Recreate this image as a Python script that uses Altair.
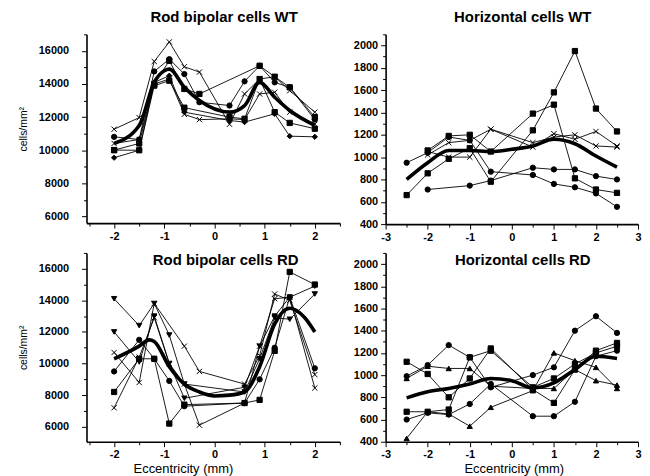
import altair as alt
import pandas as pd

# ---------------- data ----------------
# Rod bipolar cells WT
rbwt_x = [-2, -1.5, -1.2, -0.9, -0.6, -0.3, 0.3, 0.6, 0.9, 1.2, 1.5, 2]
rbwt_s1 = [11270, 11970, 15360, 16540, 15040, 14720, 11570, 13400, 14300, 14440, 13600, 12300]
rbwt_s2 = [10810, 10650, 14760, 15500, 14600, 12900, 12700, 14160, 15100, 14100, 13800, 11850]
rbwt_s3 = [10010, 10410, 14000, 15400, 13700, 13400, None, None, 15100, 14440, 13800, 12000]
rbwt_s4 = [10410, 10650, 14000, 14300, 12170, 11850, 11900, 11850, 13400, 13500, 12300, 11570]
rbwt_s5 = [10010, 10000, 13900, 14200, 12570, None, 12000, 11900, 14300, 12300, 11650, 11300]
rbwt_s6 = [9550, 10000, 14100, 14500, 12300, None, 11800, 11700, None, 12200, 10850, 10810]
rbwt_mean_x = [-2, -1.5, -1.2, -1.0, -0.9, -0.6, -0.3, 0.3, 0.6, 0.9, 1.2, 1.5, 2]
rbwt_mean = [10410, 11500, 14100, 14800, 14900, 13800, 13000, 12300, 12700, 14100, 13200, 12400, 11500]

# Horizontal cells WT
hwt_x = [-2.5, -2, -1.5, -1, -0.5, 0.5, 1, 1.5, 2, 2.5]
hwt_s1 = [660, 855, 985, 1080, 780, 1240, 1580, 1950, 1435, 1230]
hwt_s2 = [None, 1060, 1190, 1200, 1050, 1390, 1470, 810, 710, 680]
hwt_s3 = [None, 1020, 1130, 1150, 1250, 1090, 1210, 1160, 1230, 1100]
hwt_s4 = [None, 1050, 1000, 1000, 1250, 1130, 1180, 1200, 1100, 1090]
hwt_s5 = [950, 1040, 1180, 1150, 870, 840, 760, 730, 675, 555]
hwt_s6 = [None, 710, None, 745, 790, 905, 890, 890, 830, 800]
hwt_mean_x = [-2.5, -2, -1.5, -1, -0.5, 0, 0.5, 1, 1.5, 2, 2.5]
hwt_mean = [800, 950, 1060, 1060, 1050, 1070, 1100, 1160, 1120, 1010, 910]

# Rod bipolar cells RD
rbrd_x = [-2, -1.5, -1.2, -0.9, -0.6, -0.3, 0.6, 0.9, 1.2, 1.5, 2]
rbrd_s1 = [14100, 12400, 13800, 11800, 8700, None, 8200, 10300, 12900, 12800, 14400]
rbrd_s2 = [12000, 10100, 13000, 10000, 7800, None, 8500, 11100, 13000, 14200, 14900]
rbrd_s3 = [10700, 8800, 13800, None, 11100, 9500, 8700, 10500, 14400, 14000, 9300]
rbrd_s4 = [9500, 11500, 10300, 8900, 7300, None, 7500, 9000, 11000, 14200, 9700]
rbrd_s5 = [8200, 10300, 10300, 6200, 7400, None, 7500, 7700, 10800, 15800, 15000]
rbrd_s6 = [7200, 10400, 12900, 10000, 8700, 6100, 7500, 11100, 14100, 14200, 8450]
rbrd_mean_x = [-2, -1.5, -1.3, -1.2, -0.9, -0.6, -0.3, 0, 0.3, 0.6, 0.9, 1.2, 1.5, 1.8, 2]
rbrd_mean = [10300, 11100, 11500, 11400, 9800, 8700, 8200, 7950, 8000, 8200, 9800, 12500, 13500, 12900, 12000]

# Horizontal cells RD
hrd_x = [-2.5, -2, -1.5, -1, -0.5, 0.5, 1, 1.5, 2, 2.5]
hrd_s1 = [990, 1090, 1270, 1160, 890, 1000, 1070, 1400, 1530, 1380]
hrd_s2 = [970, 1080, 1060, 1060, 900, 880, 880, 1050, 950, 910]
hrd_s3 = [1120, 1010, 800, 970, 1240, 870, 750, 1050, 1220, 1290]
hrd_s4 = [670, 670, 690, 1160, 1220, 890, 970, 1100, 1200, 1260]
hrd_s5 = [600, 660, 645, 740, 920, 630, 630, 760, 1170, 1220]
hrd_s6 = [430, 670, 650, 540, 710, 860, 1200, 1130, 1070, 880]
hrd_mean_x = [-2.5, -2, -1.5, -1, -0.5, 0, 0.5, 1, 1.5, 2, 2.5]
hrd_mean = [795, 850, 880, 920, 970, 950, 885, 930, 1050, 1170, 1150]

marker_names = ["circle", "square", "x", "tri-up", "tri-down", "diamond"]
marker_shapes = ["circle", "square", "M-1,-1L1,1M1,-1L-1,1", "triangle-up", "triangle-down", "diamond"]

rbwt_markers = ["x", "circle", "square", "x", "square", "diamond"]
hwt_markers = ["square", "square", "x", "x", "circle", "circle"]
rbrd_markers = ["tri-down", "tri-down", "x", "circle", "square", "x"]
hrd_markers = ["circle", "tri-up", "square", "square", "circle", "tri-up"]


def build(xs, series, markers):
    rows = []
    for i, (vals, mk) in enumerate(zip(series, markers)):
        for x, v in zip(xs, vals):
            if v is not None:
                rows.append({"x": x, "y": v, "series": f"s{i}", "marker": mk})
    return pd.DataFrame(rows)


FONT = "Liberation Sans"


def panel(df, mx, my, xdom, ydom, xvals, yvals, ymajor, w, h,
          title=None, ytitle="", xtitle="", inner=None, lab_pad=3, title_x=None):
    ax_kw = dict(values=xvals,
                 tickSize={"condition": {"test": "datum.value % 1 === 0", "value": 5}, "value": 3},
                 labelExpr="datum.value % 1 === 0 ? '' + datum.value : ''",
                 labelFlush=False, labelOverlap=False, title=xtitle,
                 titleFontSize=13, titleFontWeight="normal", titlePadding=3)
    if title_x is not None:
        ax_kw["titleX"] = title_x
    X = alt.X("x:Q", scale=alt.Scale(domain=xdom, nice=False, zero=False), axis=alt.Axis(**ax_kw))
    Y = alt.Y("y:Q", scale=alt.Scale(domain=ydom, nice=False, zero=False),
              axis=alt.Axis(values=yvals,
                            tickSize={"condition": {"test": f"datum.value % {ymajor} === 0", "value": 5}, "value": 3},
                            labelExpr=f"datum.value % {ymajor} === 0 ? '' + datum.value : ''",
                            labelFlush=False, labelOverlap=False, labelPadding=lab_pad,
                            title=ytitle, titleFontSize=10.5, titleFontWeight="normal", titlePadding=10))
    base = alt.Chart(df)
    lines = base.mark_line(color="black", strokeWidth=0.9).encode(x=X, y=Y, detail="series:N")
    pts = base.mark_point(fill="black", stroke="black", strokeWidth=1, opacity=1, size=28).encode(
        x=X, y=Y,
        shape=alt.Shape("marker:N", scale=alt.Scale(domain=marker_names, range=marker_shapes), legend=None))
    mdf = pd.DataFrame({"x": mx, "y": my})
    mean = alt.Chart(mdf).mark_line(color="black", strokeWidth=3.6, interpolate="monotone").encode(x=X, y=Y)
    layers = [lines, pts, mean]
    if inner is not None:
        txt, tx, ty = inner
        one = pd.DataFrame({"k": [0]})
        layers.append(alt.Chart(one).mark_text(font=FONT, fontSize=15, fontWeight="bold", color="black",
                                               align="center", baseline="alphabetic").encode(
            x=alt.value(tx), y=alt.value(ty), text=alt.value(txt)))
    ch = alt.layer(*layers).properties(width=w, height=h)
    if title is not None:
        ch = ch.properties(title=alt.TitleParams(title, font=FONT, fontSize=15, fontWeight="bold",
                                                 color="black", dx=11, offset=3))
    return ch


rx = [-3, -2.5, -2, -1.5, -1, -0.5, 0, 0.5, 1, 1.5, 2, 2.5, 3]
lx = [-2.5, -2, -1.5, -1, -0.5, 0, 0.5, 1, 1.5, 2, 2.5]
ly = [6000, 7000, 8000, 9000, 10000, 11000, 12000, 13000, 14000, 15000, 16000, 17000]
ry = [400, 500, 600, 700, 800, 900, 1000, 1100, 1200, 1300, 1400, 1500, 1600, 1700, 1800, 1900, 2000, 2100]

tl = panel(build(rbwt_x, [rbwt_s1, rbwt_s2, rbwt_s3, rbwt_s4, rbwt_s5, rbwt_s6], rbwt_markers),
           rbwt_mean_x, rbwt_mean, [-2.55, 2.5], [5600, 17000], lx, ly, 2000,
           255, 190, title="Rod bipolar cells WT", ytitle="cells/mm²", lab_pad=13)
tr = panel(build(hwt_x, [hwt_s1, hwt_s2, hwt_s3, hwt_s4, hwt_s5, hwt_s6], hwt_markers),
           hwt_mean_x, hwt_mean, [-3, 3], [400, 2100], rx, ry, 200,
           254, 191, title="Horizontal cells WT", lab_pad=3)
bl = panel(build(rbrd_x, [rbrd_s1, rbrd_s2, rbrd_s3, rbrd_s4, rbrd_s5, rbrd_s6], rbrd_markers),
           rbrd_mean_x, rbrd_mean, [-2.55, 2.5], [5050, 17000], lx, ly, 2000,
           255, 190, ytitle="cells/mm²", xtitle="Eccentricity (mm)", inner=("Rod bipolar cells RD", 140, 12),
           lab_pad=13, title_x=97)
br = panel(build(hrd_x, [hrd_s1, hrd_s2, hrd_s3, hrd_s4, hrd_s5, hrd_s6], hrd_markers),
           hrd_mean_x, hrd_mean, [-3, 3], [400, 2100], rx, ry, 200,
           254, 190, xtitle="Eccentricity (mm)", inner=("Horizontal cells RD", 138, 12), lab_pad=3,
           title_x=129)

top = alt.hconcat(tl, tr, spacing=12)
bottom = alt.hconcat(bl, br, spacing=12)
chart = alt.vconcat(top, bottom, spacing=3).properties(
    padding={"left": 9, "top": 0, "right": 0, "bottom": 0}
).configure_view(stroke="transparent").configure_axis(
    labelFont=FONT, labelFontSize=11, labelFontWeight="bold", labelColor="black",
    titleFont=FONT, titleColor="black", domainColor="black", domainWidth=1.6,
    tickColor="black", tickWidth=1, grid=False
)

chart.save("out.html", embed_options={"renderer": "svg", "actions": False})
